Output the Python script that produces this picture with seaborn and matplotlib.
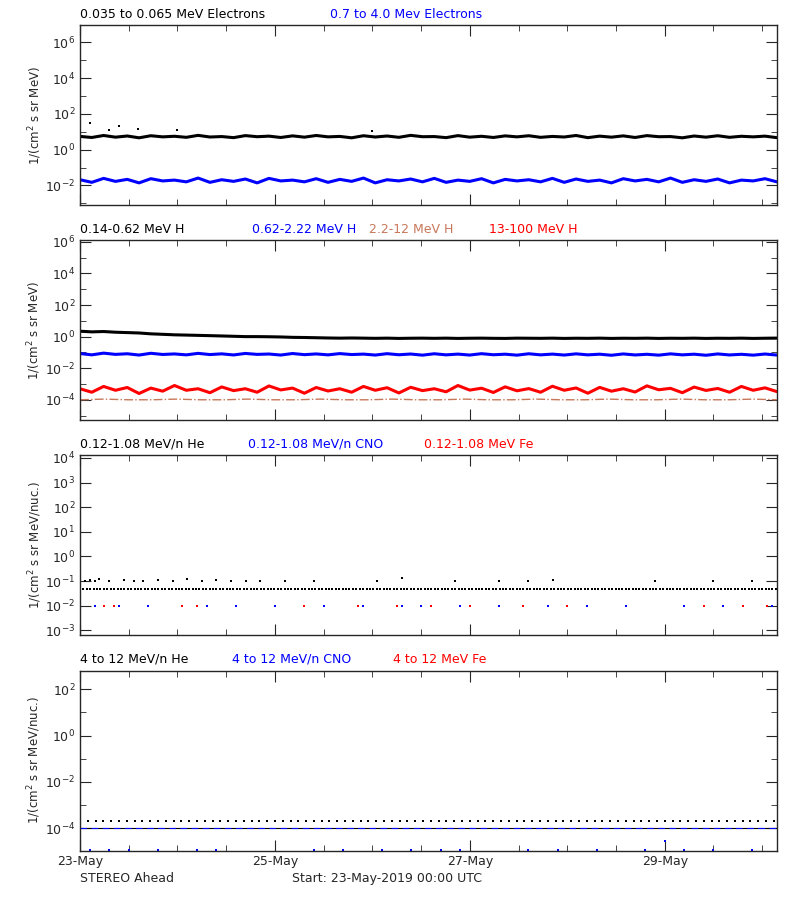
import numpy as np
import pandas as pd
import seaborn as sns
import matplotlib.pyplot as plt
from matplotlib.ticker import LogLocator, NullFormatter, MultipleLocator

sns.set_style('ticks')
plt.rcParams['font.family'] = ['DejaVu Sans']

# electron fluxes (panel 1), evenly spaced over 7.15 days
e_low = [5.5, 4.8, 6.2, 5.0, 5.8, 4.6, 6.0, 5.2, 5.6, 4.9, 6.3, 5.1, 5.4, 4.7, 6.1, 5.3,
         5.7, 4.8, 5.9, 5.0, 6.2, 5.2, 5.5, 4.6, 6.0, 5.1, 5.8, 4.9, 6.3, 5.3, 5.4, 4.7,
         6.1, 5.0, 5.6, 4.8, 5.9, 5.2, 6.0, 4.9, 5.5, 5.1, 6.2, 4.7, 5.7, 5.0, 5.9, 4.8,
         6.1, 5.3, 5.4, 4.6, 5.8, 5.0, 6.0, 4.9, 5.6, 5.2, 5.7, 4.7]
e_high = [0.021, 0.015, 0.025, 0.017, 0.022, 0.014, 0.024, 0.018, 0.02, 0.016, 0.026, 0.015,
          0.021, 0.017, 0.023, 0.014, 0.025, 0.018, 0.02, 0.016, 0.024, 0.015, 0.022, 0.017,
          0.026, 0.014, 0.021, 0.018, 0.023, 0.016, 0.025, 0.015, 0.02, 0.017, 0.024, 0.014,
          0.022, 0.018, 0.021, 0.016, 0.025, 0.015, 0.023, 0.017, 0.02, 0.014, 0.024, 0.018,
          0.022, 0.016, 0.026, 0.015, 0.021, 0.017, 0.023, 0.014, 0.02, 0.018, 0.024, 0.016]
e_spikes_t = [0.1, 0.3, 0.4, 0.6, 1.0, 3.0]
e_spikes = [30, 12, 20, 15, 12, 11]

# proton fluxes (panel 2)
h1 = [2.2, 2.0, 2.1, 1.9, 1.8, 1.7, 1.5, 1.4, 1.3, 1.25, 1.2, 1.15, 1.1, 1.05, 1.0, 1.0,
      0.98, 0.95, 0.9, 0.88, 0.85, 0.82, 0.8, 0.82, 0.8, 0.78, 0.8, 0.77, 0.79, 0.8, 0.78,
      0.8, 0.77, 0.79, 0.8, 0.78, 0.77, 0.8, 0.79, 0.78, 0.8, 0.77, 0.79, 0.78, 0.8, 0.77,
      0.79, 0.78, 0.8, 0.77, 0.79, 0.78, 0.8, 0.77, 0.79, 0.78, 0.8, 0.77, 0.79, 0.8]
h2 = [0.085, 0.07, 0.09, 0.075, 0.082, 0.068, 0.088, 0.074, 0.08, 0.07, 0.087, 0.073,
      0.081, 0.069, 0.086, 0.075, 0.079, 0.068, 0.085, 0.072, 0.08, 0.07, 0.084, 0.073,
      0.078, 0.068, 0.083, 0.071, 0.079, 0.067, 0.082, 0.07, 0.078, 0.068, 0.083, 0.071,
      0.077, 0.067, 0.082, 0.07, 0.078, 0.068, 0.081, 0.07, 0.077, 0.066, 0.08, 0.069,
      0.076, 0.067, 0.081, 0.07, 0.077, 0.066, 0.08, 0.069, 0.076, 0.067, 0.079, 0.068]
h3 = [1.0e-4, 1.1e-4, 1.0e-4, 1.0e-4, 1.1e-4, 1.0e-4, 1.0e-4, 1.1e-4, 1.0e-4, 1.0e-4,
      1.1e-4, 1.0e-4, 1.0e-4, 1.1e-4, 1.0e-4, 1.0e-4, 1.1e-4, 1.0e-4, 1.0e-4, 1.1e-4,
      1.0e-4, 1.0e-4, 1.1e-4, 1.0e-4, 1.0e-4, 1.1e-4, 1.0e-4, 1.0e-4, 1.1e-4, 1.0e-4]
h4 = [5e-4, 3e-4, 7e-4, 4e-4, 6e-4, 2.5e-4, 5.5e-4, 3.5e-4, 8e-4, 4e-4, 5e-4, 2.8e-4,
      6.5e-4, 3.8e-4, 5e-4, 3e-4, 7.5e-4, 4.2e-4, 5.5e-4, 2.6e-4, 6e-4, 3.6e-4, 5e-4, 3e-4,
      7e-4, 4e-4, 5.8e-4, 2.7e-4, 6.2e-4, 3.8e-4, 5e-4, 3.2e-4, 8e-4, 4.1e-4, 5.4e-4, 2.9e-4,
      6.6e-4, 3.7e-4, 5.1e-4, 3e-4, 7.2e-4, 4e-4, 5.6e-4, 2.6e-4, 6.1e-4, 3.5e-4, 5e-4, 3.1e-4,
      7.6e-4, 4.3e-4, 5.3e-4, 2.8e-4, 6.4e-4, 3.9e-4, 5.2e-4, 3e-4, 7e-4, 4e-4, 5.7e-4, 3.3e-4]

# low-energy heavy ions (panel 3): day of sample, value
he_lo_t = list(np.arange(0, 7.15, 0.035))
he_lo = [0.05] * len(he_lo_t)
he_hi_t = [0.0, 0.05, 0.1, 0.15, 0.2, 0.3, 0.45, 0.55, 0.65, 0.8, 0.95, 1.1, 1.25, 1.4, 1.55,
           1.7, 1.85, 2.1, 2.4, 3.05, 3.3, 3.85, 4.3, 4.6, 4.85, 5.9, 6.5, 6.9]
he_hi = [0.1, 0.1, 0.11, 0.1, 0.12, 0.1, 0.11, 0.1, 0.1, 0.11, 0.1, 0.12, 0.1, 0.11, 0.1,
         0.1, 0.1, 0.1, 0.1, 0.1, 0.13, 0.1, 0.1, 0.1, 0.11, 0.1, 0.1, 0.1]
cno_lo_t = [0.0, 0.15, 0.4, 0.7, 1.3, 1.6, 2.0, 2.5, 2.9, 3.3, 3.5, 3.9, 4.3, 4.8, 5.2, 5.6, 6.2, 6.6, 7.1]
cno_lo = [0.01] * len(cno_lo_t)
fe_lo_t = [0.25, 0.35, 1.05, 1.2, 2.3, 2.85, 3.25, 3.6, 4.0, 4.55, 5.0, 6.4, 6.8, 7.05]
fe_lo = [0.01] * len(fe_lo_t)

# high-energy heavy ions (panel 4)
he4_t = list(np.arange(0.0, 7.15, 0.08))
he4 = [2e-4] * len(he4_t)
cno4_t = [0.1, 0.3, 0.5, 0.8, 1.2, 1.4, 2.4, 2.7, 3.1, 3.4, 3.7, 3.9, 4.6, 4.9, 5.3, 5.8, 6.0, 6.2, 6.5, 6.9]
cno4 = [1.2e-5] * 16 + [3e-5, 1.2e-5, 1.2e-5, 1.2e-5]
base_t = [0.0, 7.15]
base4 = [1e-4, 1e-4]

days = 7.15


def times(vals):
    return np.linspace(0, days, len(vals))


fig, axes = plt.subplots(4, 1, figsize=(8, 9), dpi=100, sharex=True)
fig.subplots_adjust(left=0.1, right=0.971, top=0.972, bottom=0.055, hspace=0.195)

RED = '#ff0000'
BLUE = '#0000ff'
BROWN = '#c8785a'


def band(ax, vals, color):
    t = times(vals)
    sns.lineplot(x=t, y=vals, ax=ax, color=color, lw=2.2, legend=False)


def dots(ax, t, vals, color, s=4):
    sns.scatterplot(x=t, y=vals, ax=ax, color=color, marker='s', s=s, linewidth=0, legend=False)


ax = axes[0]
band(ax, e_low, 'black')
band(ax, e_high, BLUE)
dots(ax, e_spikes_t, e_spikes, 'black', s=2.5)
ax.set_ylim(10 ** -3.1, 10 ** 6.95)

ax = axes[1]
band(ax, h1, 'black')
band(ax, h2, BLUE)
sns.lineplot(x=times(h3), y=h3, ax=ax, color=BROWN, lw=1, ls='-.', legend=False)
band(ax, h4, RED)
ax.set_ylim(10 ** -5.3, 10 ** 6.1)

ax = axes[2]
dots(ax, he_lo_t, he_lo, 'black', s=2.5)
dots(ax, he_hi_t, he_hi, 'black', s=2.5)
dots(ax, cno_lo_t, cno_lo, BLUE, s=4)
dots(ax, fe_lo_t, fe_lo, RED, s=4)
ax.set_ylim(10 ** -3.2, 10 ** 4.1)

ax = axes[3]
sns.lineplot(x=base_t, y=base4, ax=ax, color='black', lw=0.8, legend=False)
sns.lineplot(x=base_t, y=base4, ax=ax, color=BLUE, lw=0.8, ls=(0, (6, 4)), legend=False)
dots(ax, he4_t, he4, 'black', s=2.5)
dots(ax, cno4_t, cno4, BLUE, s=4)
ax.set_ylim(10 ** -4.95, 10 ** 2.8)

titles = [
    [('0.035 to 0.065 MeV Electrons', 'black'), ('0.7 to 4.0 Mev Electrons', BLUE)],
    [('0.14-0.62 MeV H', 'black'), ('0.62-2.22 MeV H', BLUE), ('2.2-12 MeV H', BROWN), ('13-100 MeV H', RED)],
    [('0.12-1.08 MeV/n He', 'black'), ('0.12-1.08 MeV/n CNO', BLUE), ('0.12-1.08 MeV Fe', RED)],
    [('4 to 12 MeV/n He', 'black'), ('4 to 12 MeV/n CNO', BLUE), ('4 to 12 MeV Fe', RED)],
]
title_x = [[0.0, 0.359], [0.0, 0.247, 0.415, 0.587], [0.0, 0.241, 0.494], [0.0, 0.218, 0.449]]
ylabels = [r'1/(cm$^2$ s sr MeV)', r'1/(cm$^2$ s sr MeV)',
           r'1/(cm$^2$ s sr MeV/nuc.)', r'1/(cm$^2$ s sr MeV/nuc.)']
major_steps = [2, 2, 1, 2]

for i, ax in enumerate(axes):
    ax.set_yscale('log')
    ax.set_xlim(0, days)
    ax.set_ylabel(ylabels[i], fontsize=8.5, labelpad=1)
    step = major_steps[i]
    ax.yaxis.set_major_locator(LogLocator(base=10 ** step, numticks=20))
    if step == 2:
        ax.yaxis.set_minor_locator(LogLocator(base=10, subs=(1.0,), numticks=20))
    else:
        ax.yaxis.set_minor_locator(LogLocator(base=10, subs=(), numticks=20))
    ax.yaxis.set_minor_formatter(NullFormatter())
    ax.xaxis.set_major_locator(MultipleLocator(2))
    ax.xaxis.set_minor_locator(MultipleLocator(0.5))
    ax.tick_params(which='both', direction='in', top=True, right=True, labelsize=9)
    ax.tick_params(which='major', length=8)
    ax.tick_params(which='minor', length=4)
    for sp in ax.spines.values():
        sp.set_linewidth(1)
    for (txt, col), xx in zip(titles[i], title_x[i]):
        ax.text(xx, 1.025, txt, color=col, fontsize=9, transform=ax.transAxes, ha='left', va='bottom')

axes[3].set_xticks([0, 2, 4, 6])
axes[3].set_xticklabels(['23-May', '25-May', '27-May', '29-May'])
fig.text(0.1, 0.02, 'STEREO Ahead', fontsize=9)
fig.text(0.365, 0.02, 'Start: 23-May-2019 00:00 UTC', fontsize=9)

fig.savefig('out.png', dpi=100, facecolor='white')
